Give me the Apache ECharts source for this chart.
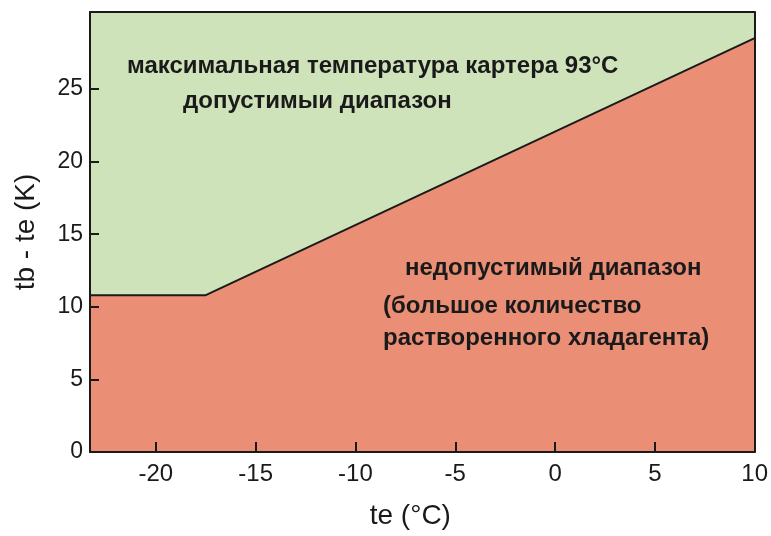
<!DOCTYPE html>
<html>
<head>
<meta charset="utf-8">
<script src="https://cdn.jsdelivr.net/npm/echarts@6/dist/echarts.min.js"></script>
<style>
  html, body { margin: 0; padding: 0; background: #fff; }
  #chart { width: 771px; height: 536px; }
</style>
</head>
<body>
<div id="chart"></div>
<script>
// граница допустимого диапазона (te, tb - te)
var boundaryTe = [-23.3, -17.5, 10];
var boundaryDt = [10.8, 10.8, 28.5];

var xTicks = [-20, -15, -10, -5, 0, 5, 10];
var yTicks = [0, 5, 10, 15, 20, 25];

var notes = [
  "максимальная температура картера 93°C",
  "допустимыи диапазон",
  "недопустимый диапазон",
  "(большое количество",
  "растворенного хладагента)"
];

var myChart = echarts.init(document.getElementById("chart"));

var font = "Liberation Sans, Arial, sans-serif";
var green = "#cfe3ba";
var salmon = "#ea8f76";
var ink = "#1a1a1a";

// рамка сверху и справа
function frameAxis(pos, range) {
  return {
    type: "value",
    position: pos,
    min: range[0],
    max: range[1],
    z: 5,
    axisLine: { show: true, onZero: false, lineStyle: { color: ink, width: 2 } },
    axisTick: { show: false },
    axisLabel: { show: false },
    splitLine: { show: false }
  };
}

var option = {
  animation: false,
  backgroundColor: "#fff",
  grid: {
    left: 90,
    right: 13,
    top: 12,
    bottom: 84,
    show: true,
    backgroundColor: green,
    borderWidth: 0
  },
  xAxis: [
    {
      type: "value",
      position: "bottom",
      min: -23.3,
      max: 10,
      z: 5,
      name: "te (°C)",
      nameLocation: "middle",
      nameGap: 50,
      nameTextStyle: { fontFamily: font, fontSize: 28, color: ink, padding: [0, 24, 0, 0] },
      axisLine: { show: true, onZero: false, lineStyle: { color: ink, width: 2 } },
      axisTick: {
        show: true,
        inside: true,
        length: 10,
        customValues: xTicks,
        lineStyle: { color: ink, width: 2 }
      },
      axisLabel: {
        customValues: xTicks,
        fontFamily: font,
        fontSize: 24,
        color: ink,
        margin: 10
      },
      splitLine: { show: false }
    },
    frameAxis("top", [-23.3, 10])
  ],
  yAxis: [
    {
      type: "value",
      position: "left",
      min: 0,
      max: 30.3,
      z: 5,
      name: "tb - te (K)",
      nameLocation: "middle",
      nameGap: 50,
      nameTextStyle: { fontFamily: font, fontSize: 28, color: ink },
      axisLine: { show: true, onZero: false, lineStyle: { color: ink, width: 2 } },
      axisTick: {
        show: true,
        inside: true,
        length: 9,
        customValues: yTicks,
        lineStyle: { color: ink, width: 2 }
      },
      axisLabel: {
        customValues: yTicks,
        fontFamily: font,
        fontSize: 23,
        color: ink,
        margin: 7
      },
      splitLine: { show: false }
    },
    frameAxis("right", [0, 30.3])
  ],
  series: [
    {
      type: "line",
      data: boundaryTe.map(function (te, i) { return [te, boundaryDt[i]]; }),
      symbol: "none",
      lineStyle: { color: ink, width: 2 },
      areaStyle: { color: salmon, opacity: 1 },
      z: 2
    }
  ],
  graphic: [
    { type: "text", z: 10, style: { text: notes[0], x: 127, y: 66, textVerticalAlign: "middle", font: "bold 24px " + font, fill: ink } },
    { type: "text", z: 10, style: { text: notes[1], x: 183, y: 101, textVerticalAlign: "middle", font: "bold 24px " + font, fill: ink } },
    { type: "text", z: 10, style: { text: notes[2], x: 405, y: 268, textVerticalAlign: "middle", font: "bold 24px " + font, fill: ink } },
    { type: "text", z: 10, style: { text: notes[3], x: 383, y: 306, textVerticalAlign: "middle", font: "bold 24px " + font, fill: ink } },
    { type: "text", z: 10, style: { text: notes[4], x: 383, y: 338, textVerticalAlign: "middle", font: "bold 24px " + font, fill: ink } }
  ]
};

myChart.setOption(option);
</script>
</body>
</html>
